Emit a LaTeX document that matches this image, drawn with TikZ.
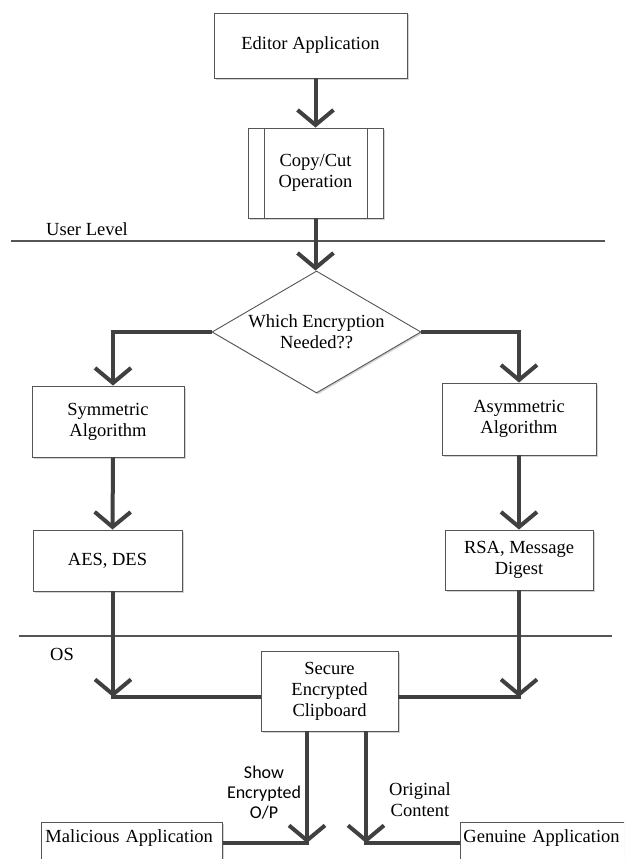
\documentclass[tikz,border=0pt]{standalone}
\usepackage{fontspec}
\setmainfont{Liberation Serif}
\newfontfamily\calibrifont{Carlito}
\usetikzlibrary{arrows.meta,shapes.geometric,calc,shadows}
\definecolor{arrowgray}{HTML}{404040}
\definecolor{boxgray}{HTML}{555555}
\begin{document}
\begin{tikzpicture}[x=1pt,y=-1pt,
  shad/.style={drop shadow={shadow xshift=1.5pt,shadow yshift=-1.5pt,opacity=0.35,fill=gray}},
  box/.style={draw=boxgray,line width=0.9pt,fill=white,rectangle,inner sep=0pt,align=center,
    font=\fontsize{18.5}{21}\selectfont,shad},
  flow/.style={draw=arrowgray,line width=4pt},
  flowarrow/.style={flow,-{Straight Barb[length=15pt,width=36pt]}},
  level/.style={draw=boxgray,line width=1.2pt},
  lbl/.style={font=\fontsize{18.5}{21}\selectfont,inner sep=0pt,align=center}]
\useasboundingbox (0,0) rectangle (624,859);
\clip (0,0) rectangle (624,859);

% level lines
\coordinate (ula) at (11,241);
\coordinate (ulb) at (605,241);
\coordinate (osa) at (19,636);
\coordinate (osb) at (612,636);
\draw[level] (ula) -- (ulb);
\draw[level] (osa) -- (osb);
\node[lbl,anchor=west] (ul) at (46,229) {User Level};
\node[lbl,anchor=west] (os) at (50,654) {OS};

% nodes
\node[box,minimum width=193pt,minimum height=65pt] (ed) at (310.5,45.5) {Editor Application};
\node[box,minimum width=135pt,minimum height=90pt] (copy) at (315.5,173) {Copy/Cut\\Operation};
\draw[draw=boxgray,line width=0.9pt] ([xshift=17pt]copy.north west) -- ([xshift=17pt]copy.south west);
\draw[draw=boxgray,line width=0.9pt] ([xshift=-16pt]copy.north east) -- ([xshift=-16pt]copy.south east);

\node[draw=boxgray,line width=0.9pt,fill=white,diamond,aspect=1.7,minimum width=209pt,
  minimum height=122pt,lbl,shad] (dia) at (316.5,332) {Which Encryption\\Needed??};

\node[box,minimum width=152pt,minimum height=71pt] (sym) at (108,421.5) {Symmetric\\Algorithm};
\node[box,minimum width=149pt,minimum height=61pt] (aes) at (107.5,560.5) {AES, DES};
\node[box,minimum width=154pt,minimum height=72pt] (asym) at (519,419) {Asymmetric\\Algorithm};
\node[box,minimum width=148pt,minimum height=60pt] (rsa) at (519,560) {RSA, Message\\Digest};

\node[box,minimum width=137pt,minimum height=80pt] (clip) at (329.5,691) {Secure\\Encrypted\\Clipboard};

\node[box,anchor=north west,text width=173pt,align=left,inner xsep=4pt,inner ysep=7pt,
  text height=13pt,text depth=40pt] (mal) at (41,822) {Malicious Application};
\node[box,anchor=north west,text width=164pt,align=left,inner xsep=3pt,inner ysep=7pt,
  text height=13pt,text depth=40pt] (gen) at (460,822) {Genuine Application};

\node[font=\calibrifont\fontsize{18}{20}\selectfont,align=center,inner sep=0pt] (lshow) at (264,793) {Show\\Encrypted\\O/P};
\node[lbl] (lorig) at (420,800) {Original\\Content};

% junction points
\coordinate (lj) at (113,697);
\coordinate (rj) at (519,697);
\coordinate (ml) at (307,843);
\coordinate (gl) at (366,843);

% connectors
\draw[flowarrow] (ed.south -| copy.north) -- (copy.north);
\draw[flowarrow] (copy.south) -- (copy.south |- dia.north);
\draw[flowarrow] (dia.west) -| ([xshift=5pt]sym.north);
\draw[flowarrow] (dia.east) -| (asym.north);
\draw[flowarrow] ([xshift=5pt]sym.south) -- ([xshift=5pt]aes.north);
\draw[flowarrow] (asym.south) -- (rsa.north);
\draw[flowarrow] ([xshift=5.5pt]aes.south) -- (lj);
\draw[flowarrow] (rsa.south) -- (rj);
\draw[flow] (clip.west |- lj) -- ([xshift=-2pt]lj);
\draw[flow] (clip.east |- rj) -- ([xshift=2pt]rj);
\draw[flowarrow] (clip.south -| ml) -- (ml);
\draw[flowarrow] (clip.south -| gl) -- (gl);
\draw[flow] ([xshift=2pt]ml) -- (ml -| mal.east);
\draw[flow] ([xshift=-2pt]gl) -- (gl -| gen.west);
\end{tikzpicture}
\end{document}
